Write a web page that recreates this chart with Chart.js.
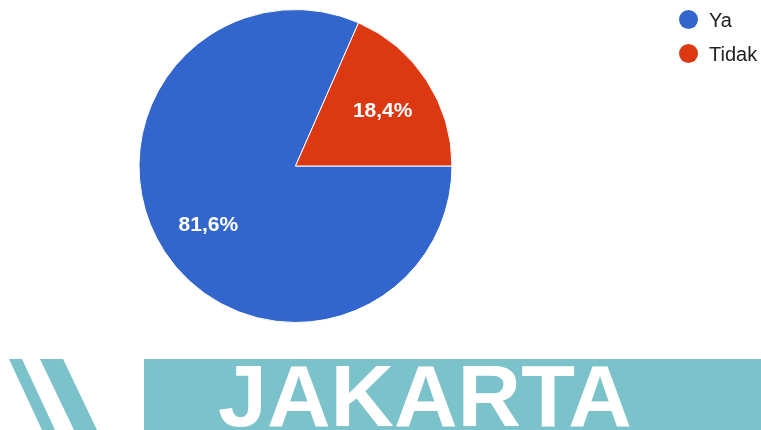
<!DOCTYPE html>
<html>
<head>
<meta charset="utf-8">
<script src="https://cdn.jsdelivr.net/npm/chart.js@4.4.1/dist/chart.umd.min.js"></script>
<style>
  html, body { margin: 0; padding: 0; background: #fff; width: 761px; height: 430px; overflow: hidden; font-family: Arial, "Liberation Sans", sans-serif; }
  #wrap { position: absolute; left: 0; top: 0; width: 761px; height: 350px; }
  #legend { position: absolute; left: 679px; top: 8px; }
  .li { position: relative; height: 34px; font-size: 20px; color: #222; line-height: 24px; }
  .dot { position: absolute; left: 0; top: 2px; width: 19px; height: 19px; border-radius: 50%; }
  .lt { position: absolute; left: 30px; top: 0; }
  #banner { position: absolute; left: 0; top: 359px; width: 761px; height: 71px; overflow: hidden; }
</style>
</head>
<body>
<div id="wrap"><canvas id="c" width="761" height="350"></canvas></div>
<div id="legend"></div>
<div id="banner"><canvas id="b" width="761" height="71"></canvas></div>
<script>
const categories = ["Ya", "Tidak"];
const values = [81.6, 18.4];
const percentLabels = ["81,6%", "18,4%"];
const colors = ["#3366cc", "#dc3912"];
const bannerText = "JAKARTA";

const sliceLabels = {
  id: 'sliceLabels',
  afterDatasetsDraw(chart) {
    const ctx = chart.ctx;
    const meta = chart.getDatasetMeta(0);
    ctx.save();
    ctx.fillStyle = '#ffffff';
    ctx.font = 'bold 21px Arial, "Liberation Sans", sans-serif';
    ctx.textAlign = 'center';
    ctx.textBaseline = 'middle';
    meta.data.forEach((arc, i) => {
      const p = arc.getProps(['x','y','startAngle','endAngle','outerRadius'], true);
      const mid = (p.startAngle + p.endAngle) / 2;
      const r = p.outerRadius * 0.665;
      ctx.fillText(percentLabels[i], p.x + Math.cos(mid) * r, p.y + Math.sin(mid) * r + 2);
    });
    ctx.restore();
  }
};

new Chart(document.getElementById('c'), {
  type: 'pie',
  data: {
    labels: categories,
    datasets: [{ data: values, backgroundColor: colors, borderColor: '#ffffff', borderWidth: 1, hoverOffset: 0 }]
  },
  options: {
    responsive: false,
    animation: false,
    rotation: 90,
    layout: { padding: { left: 138, top: 9, right: 308, bottom: 27 } },
    plugins: { legend: { display: false }, tooltip: { enabled: false } }
  },
  plugins: [sliceLabels]
});

// HTML legend
const lg = document.getElementById('legend');
categories.forEach((c, i) => {
  const d = document.createElement('div');
  d.className = 'li';
  d.innerHTML = '<span class="dot" style="background:' + colors[i] + '"></span><span class="lt">' + c + '</span>';
  lg.appendChild(d);
});

// Banner
const b = document.getElementById('b');
const bc = b.getContext('2d');
const teal = '#7cc2ca';
bc.fillStyle = '#ffffff';
bc.fillRect(0, 0, 761, 71);
bc.fillStyle = teal;
bc.beginPath(); bc.moveTo(9, 0); bc.lineTo(22, 0); bc.lineTo(55, 71); bc.lineTo(42, 71); bc.closePath(); bc.fill();
bc.beginPath(); bc.moveTo(40, 0); bc.lineTo(63, 0); bc.lineTo(97, 71); bc.lineTo(74, 71); bc.closePath(); bc.fill();
bc.fillRect(144, 0, 617, 71);
bc.fillStyle = '#ffffff';
bc.font = 'bold 88px Arial, "Liberation Sans", sans-serif';
bc.textBaseline = 'alphabetic';
bc.textAlign = 'left';
bc.fillText(bannerText, 218, 67);
</script>
</body>
</html>
